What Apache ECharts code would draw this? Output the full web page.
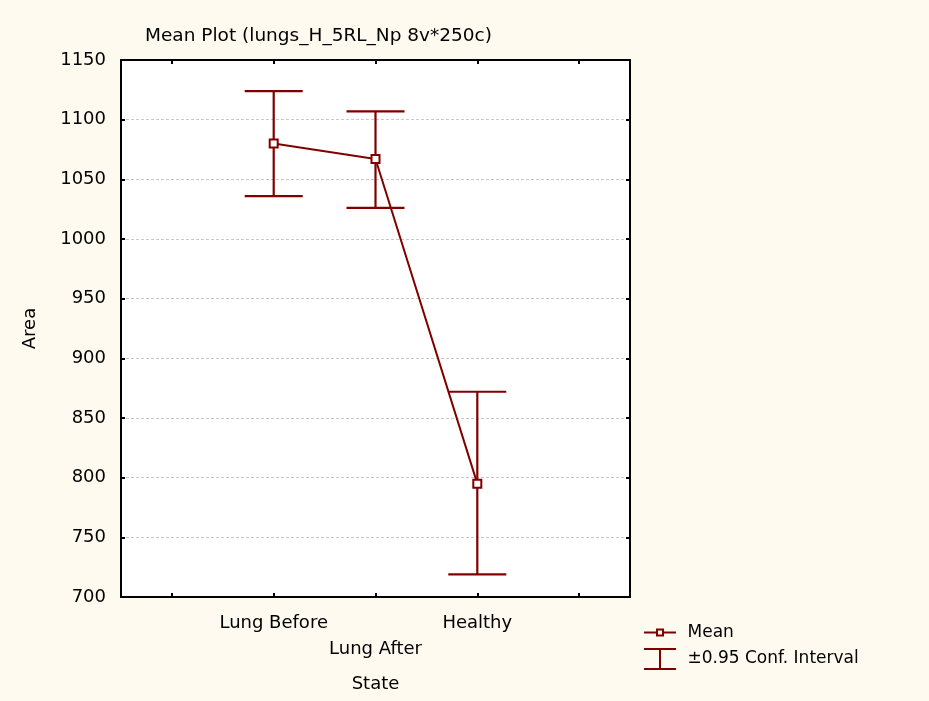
<!DOCTYPE html>
<html>
<head>
<meta charset="utf-8">
<script src="https://cdn.jsdelivr.net/npm/echarts@6/dist/echarts.min.js"></script>
<style>
html,body{margin:0;padding:0;background:#fffaf0;}
#chart{width:929px;height:701px;}
</style>
</head>
<body>
<div id="chart"></div>
<script>
// ---- data ----
var categories = ['Lung Before', 'Lung After', 'Healthy'];
var means = [1080, 1067, 795];
var ciHigh = [1124, 1107, 872];
var ciLow = [1036, 1026, 719];
var yTicks = [700, 750, 800, 850, 900, 950, 1000, 1050, 1100, 1150];
var titleText = 'Mean Plot (lungs_H_5RL_Np 8v*250c)';
var xName = 'State';
var yName = 'Area';
var meanName = 'Mean';
var ciName = '\u00b10.95 Conf. Interval';

// ---- build ----
var axisCats = [''].concat(categories).concat(['']);
var meanData = categories.map(function (c, i) { return [c, means[i]]; });
var ciData = categories.map(function (c, i) { return [c, ciLow[i], ciHigh[i]]; });

var RED = '#800000';
var FONT = 'DejaVu Sans';

var chart = echarts.init(document.getElementById('chart'));

var meanIcon = 'path://M0 3 H12 V0 H20 V3 H32 V5 H20 V8 H12 V5 H0 Z M14 2 V6 H18 V2 Z';
var ciIcon = 'path://M0 0 H32 V2 H0 Z M15 2 H17 V20 H15 Z M0 20 H32 V22 H0 Z';

var option = {
  backgroundColor: '#fffaf0',
  animation: false,
  title: {
    text: titleText,
    left: 140, top: 22,
    textStyle: { fontFamily: FONT, fontSize: 18.5, fontWeight: 'normal', color: '#000' }
  },
  legend: [
    {
      data: [{ name: meanName, icon: meanIcon, itemStyle: { color: RED, borderWidth: 0 } }],
      left: 644, top: 624, orient: 'vertical', padding: 0,
      itemWidth: 35, itemHeight: 8,
      textStyle: { fontFamily: FONT, fontSize: 17, color: '#000', padding: [0, 0, 0, 5] },
      selectedMode: false
    },
    {
      data: [{ name: ciName, icon: ciIcon, itemStyle: { color: RED, borderWidth: 0 } }],
      left: 644, top: 648, orient: 'vertical', padding: 0,
      itemWidth: 35, itemHeight: 22,
      textStyle: { fontFamily: FONT, fontSize: 17, color: '#000', padding: [0, 0, 0, 5] },
      selectedMode: false
    }
  ],
  grid: { left: 121, right: 299, top: 60, bottom: 104, show: true, backgroundColor: '#ffffff', borderWidth: 0 },
  xAxis: [
    {
      type: 'category', data: axisCats, boundaryGap: true, position: 'bottom',
      name: xName, nameLocation: 'middle', nameGap: 78,
      nameTextStyle: { fontFamily: FONT, fontSize: 18, color: '#000' },
      axisLine: { lineStyle: { color: '#000', width: 2 } },
      axisTick: { show: true, inside: true, length: 4, alignWithLabel: true, lineStyle: { color: '#000', width: 2 } },
      axisLabel: {
        interval: 0, margin: 13, fontFamily: FONT, fontSize: 18, color: '#000',
        formatter: function (v, i) { return (i % 2 === 0 && v) ? '\n' + v : v; },
        lineHeight: 26
      },
      splitLine: { show: false }
    },
    {
      type: 'category', data: axisCats, boundaryGap: true, position: 'top',
      axisLine: { lineStyle: { color: '#000', width: 2 } },
      axisTick: { show: true, inside: true, length: 4, alignWithLabel: true, lineStyle: { color: '#000', width: 2 } },
      axisLabel: { show: false },
      splitLine: { show: false }
    }
  ],
  yAxis: [
    {
      type: 'value', min: yTicks[0], max: yTicks[yTicks.length - 1], interval: yTicks[1] - yTicks[0],
      position: 'left',
      name: yName, nameLocation: 'middle', nameGap: 82, nameRotate: 90,
      nameTextStyle: { fontFamily: FONT, fontSize: 18, color: '#000' },
      axisLine: { show: true, lineStyle: { color: '#000', width: 2 } },
      axisTick: { show: true, inside: true, length: 4, lineStyle: { color: '#000', width: 2 } },
      axisLabel: { margin: 15, fontFamily: FONT, fontSize: 18, color: '#000', formatter: function (v) { return String(v); } },
      splitLine: { show: true, lineStyle: { color: '#c8c8c8', width: 1, type: [3, 2] } }
    },
    {
      type: 'value', min: yTicks[0], max: yTicks[yTicks.length - 1], interval: yTicks[1] - yTicks[0],
      position: 'right',
      axisLine: { show: true, lineStyle: { color: '#000', width: 2 } },
      axisTick: { show: true, inside: true, length: 4, lineStyle: { color: '#000', width: 2 } },
      axisLabel: { show: false },
      splitLine: { show: false }
    }
  ],
  series: [
    {
      name: ciName,
      type: 'custom',
      xAxisIndex: 0, yAxisIndex: 0,
      itemStyle: { color: RED },
      data: ciData,
      encode: { x: 0, y: [1, 2] },
      renderItem: function (params, api) {
        var x = api.value(0);
        var lo = api.coord([x, api.value(1)]);
        var hi = api.coord([x, api.value(2)]);
        var half = api.size([1, 0])[0] * 0.285;
        var st = { stroke: RED, lineWidth: 2.2, fill: null };
        return {
          type: 'group',
          children: [
            { type: 'line', shape: { x1: hi[0], y1: hi[1], x2: lo[0], y2: lo[1] }, style: st },
            { type: 'line', shape: { x1: hi[0] - half, y1: hi[1], x2: hi[0] + half, y2: hi[1] }, style: st },
            { type: 'line', shape: { x1: lo[0] - half, y1: lo[1], x2: lo[0] + half, y2: lo[1] }, style: st }
          ]
        };
      },
      z: 2
    },
    {
      name: meanName,
      type: 'line',
      xAxisIndex: 0, yAxisIndex: 0,
      data: meanData,
      symbol: 'rect',
      symbolSize: 8,
      lineStyle: { color: RED, width: 2 },
      itemStyle: { color: '#ffffff', borderColor: RED, borderWidth: 2 },
      z: 3
    }
  ]
};
chart.setOption(option);
</script>
</body>
</html>
